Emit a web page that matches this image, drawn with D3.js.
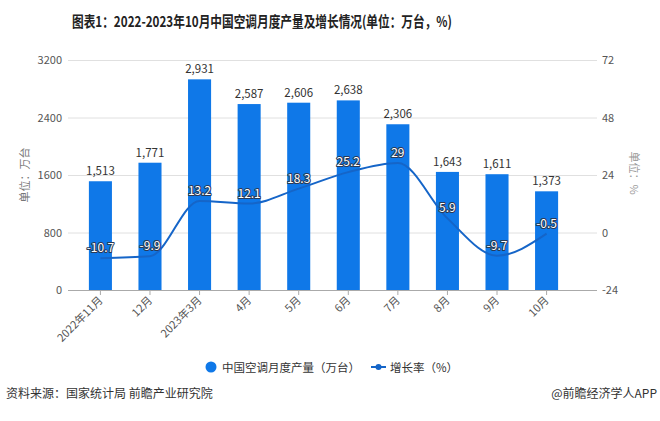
<!DOCTYPE html>
<html><head><meta charset="utf-8">
<script src="https://cdn.jsdelivr.net/npm/d3@7"></script>
<style>body{margin:0;background:#fff}svg{display:block;font-family:"Noto Sans CJK SC","Noto Sans",sans-serif}</style>
</head><body>
<svg id="c" width="660" height="421"></svg>
<script>
const categories = ["2022年11月","12月","2023年3月","4月","5月","6月","7月","8月","9月","10月"];
const production = [1513,1771,2931,2587,2606,2638,2306,1643,1611,1373];
const growth = [-10.7,-9.9,13.2,12.1,18.3,25.2,29,5.9,-9.7,-0.5];
const leftTicks = [0,800,1600,2400,3200];
const rightTicks = [-24,0,24,48,72];

const svg = d3.select("#c");
const barColor = "#0f78e8", lineColor = "#1565c8";
const x = d3.scaleBand().domain(categories).range([75.5,571.5]).paddingInner(0.535).paddingOuter(0.27);
const yL = d3.scaleLinear().domain([0,3200]).range([290,60]);
const yR = d3.scaleLinear().domain([-24,72]).range([290,60]);

// title
svg.append("text").attr("x",72).attr("y",27).attr("font-size",15).attr("font-weight","bold").attr("fill","#222")
  .attr("textLength",380).attr("lengthAdjust","spacingAndGlyphs")
  .text("图表1：2022-2023年10月中国空调月度产量及增长情况(单位：万台，%)");

// grid
svg.append("g").selectAll("line").data(leftTicks).join("line")
  .attr("x1",68).attr("x2",597).attr("y1",d=>yL(d)+0.5).attr("y2",d=>yL(d)+0.5)
  .attr("stroke",d=>d===0?"#aaa":"#e0e0e0").attr("stroke-width",1);

// left axis labels
svg.append("g").selectAll("text").data(leftTicks).join("text")
  .attr("x",62).attr("y",d=>yL(d)+4).attr("text-anchor","end").attr("font-size",11).attr("fill","#555").text(d=>d);
// right axis labels
svg.append("g").selectAll("text").data(rightTicks).join("text")
  .attr("x",602).attr("y",d=>yR(d)+4).attr("text-anchor","start").attr("font-size",11).attr("fill","#555").text(d=>d);

// axis titles
svg.append("text").attr("transform","translate(29,175) rotate(-90)").attr("text-anchor","middle")
  .attr("font-size",11).attr("fill","#777").text("单位：万台");
svg.append("text").attr("transform","translate(630,173) rotate(90)").attr("text-anchor","middle")
  .attr("font-size",11).attr("fill","#999").text("单位：%");

// bars
svg.append("g").selectAll("rect").data(production).join("rect")
  .attr("x",(d,i)=>x(categories[i])).attr("width",x.bandwidth())
  .attr("y",d=>yL(d)).attr("height",d=>yL(0)-yL(d)).attr("fill",barColor);

// bar labels
svg.append("g").selectAll("text").data(production).join("text")
  .attr("x",(d,i)=>x(categories[i])+x.bandwidth()/2).attr("y",d=>yL(d)-6)
  .attr("text-anchor","middle").attr("font-size",11.5).attr("fill","#333").text(d=>d3.format(",")(d));

// x ticks
const xa = svg.append("g");
xa.selectAll("line").data(categories).join("line")
  .attr("x1",d=>x(d)+x.bandwidth()/2).attr("x2",d=>x(d)+x.bandwidth()/2).attr("y1",290).attr("y2",295).attr("stroke","#aaa");
xa.selectAll("text").data(categories).join("text")
  .attr("transform",d=>`translate(${x(d)+x.bandwidth()/2+3},${301}) rotate(-45)`)
  .attr("text-anchor","end").attr("font-size",11).attr("fill","#555").text(d=>d);

// line
const line = d3.line().x((d,i)=>x(categories[i])+x.bandwidth()/2).y(d=>yR(d)).curve(d3.curveMonotoneX);
svg.append("path").datum(growth).attr("d",line).attr("fill","none").attr("stroke",lineColor).attr("stroke-width",2);

// line labels
svg.append("g").selectAll("text").data(growth).join("text")
  .attr("x",(d,i)=>x(categories[i])+x.bandwidth()/2).attr("y",d=>yR(d)-6)
  .attr("text-anchor","middle").attr("font-size",12).attr("fill","#fff")
  .attr("stroke","#2a3a55").attr("stroke-width",2).attr("paint-order","stroke").attr("stroke-linejoin","round")
  .text(d=>d);

// legend
const lg = svg.append("g");
lg.append("circle").attr("cx",211).attr("cy",367).attr("r",5.5).attr("fill",barColor);
lg.append("text").attr("x",222).attr("y",371.5).attr("font-size",11.5).attr("fill","#333").text("中国空调月度产量（万台）");
lg.append("line").attr("x1",371).attr("x2",386).attr("y1",367).attr("y2",367).attr("stroke",lineColor).attr("stroke-width",2);
lg.append("circle").attr("cx",378.5).attr("cy",367).attr("r",3).attr("fill",lineColor);
lg.append("text").attr("x",390).attr("y",371.5).attr("font-size",11.5).attr("fill","#333").text("增长率（%）");

// footer
svg.append("text").attr("x",6).attr("y",398).attr("font-size",12).attr("fill","#333").text("资料来源：国家统计局 前瞻产业研究院");
svg.append("text").attr("x",657).attr("y",398).attr("text-anchor","end").attr("font-size",12).attr("fill","#333").text("@前瞻经济学人APP");
</script>
</body></html>
